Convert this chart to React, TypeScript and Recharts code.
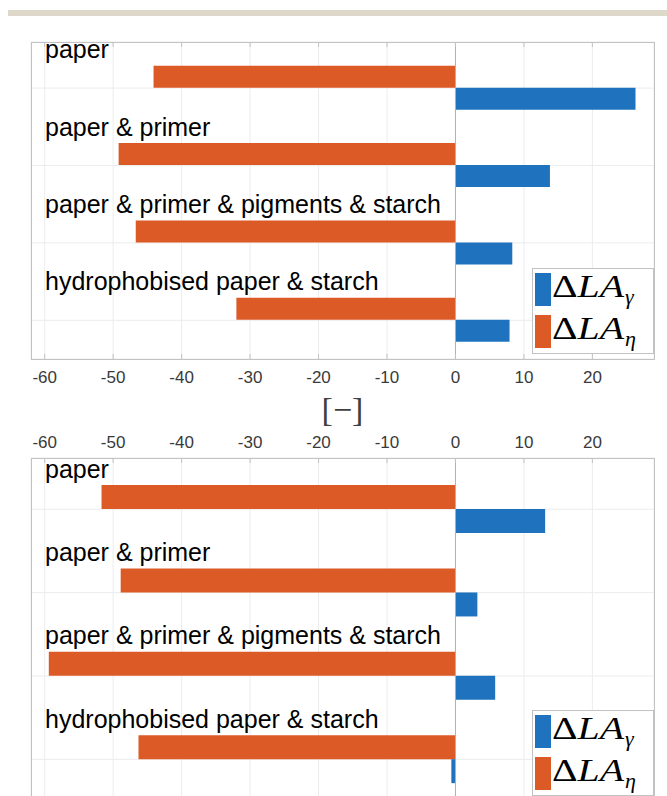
import React from "react";
import {
  BarChart,
  Bar,
  XAxis,
  YAxis,
  CartesianGrid,
  ReferenceLine,
  LabelList,
} from "recharts";

// ---------- data ----------
const categories = [
  "paper",
  "paper & primer",
  "paper & primer & pigments & starch",
  "hydrophobised paper & starch",
];
const topGamma = [26.3, 13.8, 8.3, 7.9];
const topEta = [-44.1, -49.2, -46.7, -32.0];
const bottomGamma = [13.1, 3.2, 5.8, -0.6];
const bottomEta = [-51.7, -48.9, -59.4, -46.3];
const xTicks = [-60, -50, -40, -30, -20, -10, 0, 10, 20];
const xDomain: [number, number] = [-62, 29];
const unitLabel = "[\u2212]";
const legendSubs = ["\u03b3", "\u03b7"];

const topData = categories.map((name, i) => ({ name, gamma: topGamma[i], eta: topEta[i] }));
const bottomData = categories.map((name, i) => ({ name, gamma: bottomGamma[i], eta: bottomEta[i] }));

// ---------- styles ----------
const BLUE = "#1f72bd";
const ORANGE = "#db5a26";
const BORDER = "#c2c2c2";
const GRID = "#ececec";
const W = 667;
const PLOT_LEFT = 31;
const PLOT_RIGHT = 654;
const SANS = "'Liberation Sans', Arial, Helvetica, sans-serif";
const SERIF = "'Liberation Serif', 'Times New Roman', serif";

function makeXTick(labelY: number, plotTop: number, plotBottom: number) {
  return (props: any) => {
    const { x, payload } = props;
    return (
      <g>
        <line x1={x} x2={x} y1={plotTop} y2={plotTop + 5} stroke={BORDER} />
        <line x1={x} x2={x} y1={plotBottom - 5} y2={plotBottom} stroke={BORDER} />
        <text
          x={x}
          y={labelY}
          textAnchor="middle"
          dominantBaseline="central"
          fontFamily={SANS}
          fontSize={17}
          fill="#3a3a3a"
        >
          {payload.value}
        </text>
      </g>
    );
  };
}

function makeYTick(side: "left" | "right") {
  return (props: any) => {
    const { y } = props;
    const x1 = side === "left" ? PLOT_LEFT : PLOT_RIGHT - 5;
    return <line x1={x1} x2={x1 + 5} y1={y} y2={y} stroke={BORDER} />;
  };
}

const CatLabel = (props: any) => {
  const vb = props.viewBox || props;
  const y = vb.y ?? props.y;
  return (
    <text
      x={PLOT_LEFT + 14}
      y={y - 7.5}
      fontFamily={SANS}
      fontSize={25}
      fill="#000"
    >
      {props.value}
    </text>
  );
};

const UnitLabel = (props: any) => {
  const vb = props.viewBox || { x: PLOT_LEFT, width: PLOT_RIGHT - PLOT_LEFT };
  return (
    <text
      x={vb.x + vb.width / 2}
      y={409}
      textAnchor="middle"
      dominantBaseline="central"
      fontFamily={SERIF}
      fontSize={34}
      fill="#404040"
    >
      {unitLabel}
    </text>
  );
};

function PlotFrame({ top, height }: { top: number; height: number }) {
  return (
    <div
      style={{
        position: "absolute",
        left: PLOT_LEFT,
        top,
        width: PLOT_RIGHT - PLOT_LEFT + 1,
        height,
        boxSizing: "border-box",
        border: `1px solid ${BORDER}`,
        pointerEvents: "none",
      }}
    />
  );
}

function LegendBox({ top }: { top: number }) {
  return (
    <svg
      width={124}
      height={88}
      style={{ position: "absolute", left: 531, top: top - 1, overflow: "visible" }}
    >
      <rect x={1.5} y={1.5} width={121} height={85} fill="#fff" stroke={BORDER} />
      {[BLUE, ORANGE].map((c, i) => {
        const off = i * 42;
        return (
          <g key={i}>
            <rect x={4} y={6 + off} width={16} height={33} fill={c} />
            <text
              x={21}
              y={30 + off}
              fontFamily={SERIF}
              fontSize={31}
              fill="#000"
              textLength={72}
              lengthAdjust="spacingAndGlyphs"
            >
              <tspan>{"\u0394"}</tspan>
              <tspan fontStyle="italic">LA</tspan>
            </text>
            <text
              x={94}
              y={37 + off}
              fontFamily={SERIF}
              fontStyle="italic"
              fontSize={22}
              fill="#000"
            >
              {legendSubs[i]}
            </text>
          </g>
        );
      })}
    </svg>
  );
}

export default function App() {
  // top chart geometry
  const topH = 440;
  const topPlotTop = 42;
  const topPlotBottom = 359;
  // bottom chart geometry (positioned at page y = 420)
  const botOffset = 420;
  const botH = 400;
  const botPlotTop = 38;
  const botPlotBottom = 381;

  return (
    <div
      style={{
        position: "absolute",
        left: 0,
        top: 0,
        width: W,
        height: 796,
        overflow: "hidden",
        background: "#fff",
      }}
    >
      <div
        style={{
          position: "absolute",
          left: 8,
          top: 10,
          width: W - 8,
          height: 6,
          background: "#ddd8c9",
        }}
      />

      {/* Top chart */}
      <div style={{ position: "absolute", left: 0, top: 0 }}>
        <BarChart
          width={W}
          height={topH}
          data={topData}
          layout="vertical"
          margin={{ top: topPlotTop, right: W - PLOT_RIGHT, bottom: 0, left: PLOT_LEFT }}
          barCategoryGap="21%"
          barGap={0}
        >
          <CartesianGrid stroke={GRID} />
          <XAxis
            type="number"
            domain={xDomain}
            ticks={xTicks}
            allowDataOverflow
            height={topH - topPlotBottom}
            axisLine={false}
            tickLine={false}
            tick={makeXTick(377, topPlotTop, topPlotBottom)}
            interval={0}
            label={<UnitLabel />}
          />
          <YAxis
            type="category"
            dataKey="name"
            width={0}
            padding={{ top: 7.4, bottom: 0 }}
            axisLine={false}
            tickLine={false}
            tick={makeYTick("left")}
            interval={0}
          />
          <YAxis
            yAxisId="right"
            orientation="right"
            type="category"
            dataKey="name"
            width={0}
            padding={{ top: 7.4, bottom: 0 }}
            axisLine={false}
            tickLine={false}
            tick={makeYTick("right")}
            interval={0}
          />
          <ReferenceLine x={0} stroke="#b0b0b0" />
          <Bar dataKey="eta" fill={ORANGE} isAnimationActive={false}>
            <LabelList dataKey="name" content={<CatLabel />} />
          </Bar>
          <Bar dataKey="gamma" fill={BLUE} isAnimationActive={false} />
        </BarChart>
      </div>
      <PlotFrame top={topPlotTop} height={topPlotBottom - topPlotTop + 1} />

      {/* Bottom chart */}
      <div style={{ position: "absolute", left: 0, top: botOffset }}>
        <BarChart
          width={W}
          height={botH}
          data={bottomData}
          layout="vertical"
          margin={{ top: 0, right: W - PLOT_RIGHT, bottom: botH - botPlotBottom, left: PLOT_LEFT }}
          barCategoryGap="21%"
          barGap={0}
        >
          <CartesianGrid stroke={GRID} />
          <XAxis
            type="number"
            orientation="top"
            domain={xDomain}
            ticks={xTicks}
            allowDataOverflow
            height={botPlotTop}
            axisLine={false}
            tickLine={false}
            tick={makeXTick(22, botPlotTop, botPlotBottom)}
            interval={0}
          />
          <YAxis
            type="category"
            dataKey="name"
            width={0}
            padding={{ top: 9.6, bottom: 0 }}
            axisLine={false}
            tickLine={false}
            tick={makeYTick("left")}
            interval={0}
          />
          <YAxis
            yAxisId="right"
            orientation="right"
            type="category"
            dataKey="name"
            width={0}
            padding={{ top: 9.6, bottom: 0 }}
            axisLine={false}
            tickLine={false}
            tick={makeYTick("right")}
            interval={0}
          />
          <ReferenceLine x={0} stroke="#b0b0b0" />
          <Bar dataKey="eta" fill={ORANGE} isAnimationActive={false}>
            <LabelList dataKey="name" content={<CatLabel />} />
          </Bar>
          <Bar dataKey="gamma" fill={BLUE} isAnimationActive={false} />
        </BarChart>
      </div>
      <PlotFrame top={botOffset + botPlotTop} height={botPlotBottom - botPlotTop + 1} />

      <LegendBox top={268} />
      <LegendBox top={710} />
    </div>
  );
}
